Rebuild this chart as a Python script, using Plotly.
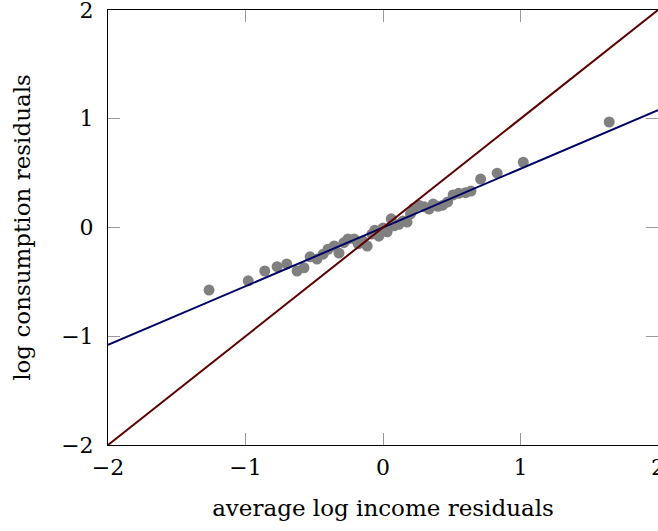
import plotly.graph_objects as go

# Household residuals: average log income vs log consumption
income_resid = [
    -1.265, -0.98, -0.86, -0.77, -0.70, -0.625, -0.575, -0.53, -0.48, -0.435,
    -0.40, -0.355, -0.32, -0.285, -0.255, -0.21, -0.18, -0.145, -0.115, -0.08,
    -0.06, -0.03, 0.0, 0.03, 0.06, 0.08, 0.115, 0.145, 0.175, 0.20,
    0.225, 0.26, 0.30, 0.335, 0.365, 0.40, 0.435, 0.47, 0.51, 0.55,
    0.60, 0.64, 0.71, 0.83, 1.02, 1.645,
]
consumption_resid = [
    -0.575, -0.49, -0.40, -0.36, -0.335, -0.40, -0.37, -0.27, -0.29, -0.245,
    -0.20, -0.17, -0.235, -0.14, -0.105, -0.105, -0.15, -0.125, -0.17, -0.06,
    -0.025, -0.08, -0.005, -0.04, 0.08, 0.015, 0.03, 0.06, 0.05, 0.125,
    0.18, 0.205, 0.19, 0.17, 0.215, 0.195, 0.205, 0.235, 0.30, 0.315,
    0.32, 0.335, 0.445, 0.50, 0.60, 0.97,
]

# Fitted regression line and 45-degree reference line
x_range = [-2, 2]
fit_slope, fit_intercept = 0.54, 0.0
fit_line = [fit_intercept + fit_slope * x for x in x_range]
diag_line = list(x_range)

tick_vals = [-2, -1, 0, 1, 2]
tick_text = ["\u22122", "\u22121", "0", "1", "2"]

FONT = "DejaVu Serif"
TICK_SIZE = 22
TITLE_SIZE = 23

fig = go.Figure()
fig.add_trace(go.Scatter(
    x=income_resid, y=consumption_resid, mode="markers",
    marker=dict(color="#808080", size=11, line=dict(width=0)),
    showlegend=False,
))
fig.add_trace(go.Scatter(
    x=x_range, y=fit_line, mode="lines",
    line=dict(color="#000066", width=2), showlegend=False,
))
fig.add_trace(go.Scatter(
    x=x_range, y=diag_line, mode="lines",
    line=dict(color="#5c0000", width=2), showlegend=False,
))

axis_common = dict(
    range=[-2, 2], tickvals=tick_vals, ticktext=tick_text,
    showgrid=False, zeroline=False, showline=True, linecolor="black",
    linewidth=1, mirror="ticks", ticks="inside", ticklen=12,
    tickcolor="#999999", tickwidth=1, ticklabeloverflow="allow",
    automargin=False,
    tickfont=dict(family=FONT, size=TICK_SIZE, color="black"),
)

fig.update_layout(
    width=658, height=531,
    margin=dict(l=108, r=0, t=10, b=86, autoexpand=False),
    paper_bgcolor="white", plot_bgcolor="white",
    font=dict(family=FONT, color="black"),
    xaxis=dict(**axis_common, ticklabelstandoff=3,
               title=dict(text="average log income residuals",
                          font=dict(family=FONT, size=TITLE_SIZE), standoff=20)),
    yaxis=dict(**axis_common, ticklabelstandoff=9,
               title=dict(text="log consumption residuals",
                          font=dict(family=FONT, size=TITLE_SIZE), standoff=24)),
)

fig.write_html("out.html")
